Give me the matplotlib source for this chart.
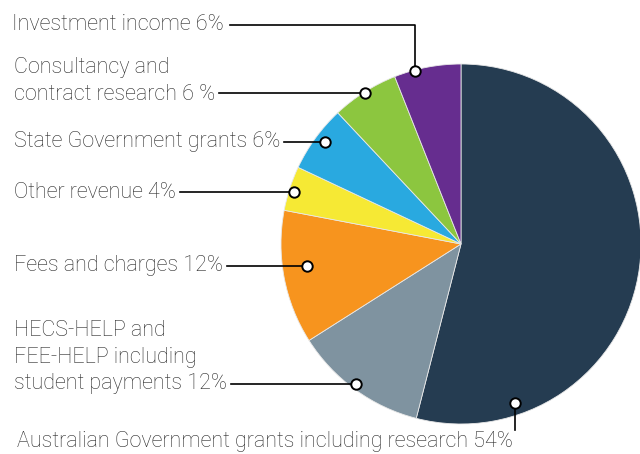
import numpy as np
import matplotlib
matplotlib.use("Agg")
import matplotlib.pyplot as plt

# revenue shares, clockwise from the top
labels = [
    "Australian Government grants including research 54%",
    "HECS-HELP and\nFEE-HELP including\nstudent payments 12%",
    "Fees and charges 12%",
    "Other revenue 4%",
    "State Government grants 6%",
    "Consultancy and\ncontract research 6 %",
    "Investment income 6%",
]
shares = [54, 12, 12, 4, 6, 6, 6]
colors = ["#253c51", "#7f93a0", "#f7941e", "#f6e934", "#29a9e0", "#8cc63f", "#662d8f"]

# where each callout dot sits inside its wedge: (fraction along wedge, fraction of radius)
dot_pos = [(0.829, 0.933), (0.523, 0.972), (0.565, 0.864), (0.451, 0.972),
           (0.542, 0.944), (0.5, 0.994), (0.31, 0.994)]
# text anchor (x, y in px from top-left) and callout line height
text_xy = [(17, 442), (14, 357), (14, 265), (14, 192), (14, 142), (14, 81), (12, 25)]
line_y = [None, 384, 266, 192, 142, 93, 25]

W, H = 640, 454
CX, CY, R = 461, H - 244, 180

plt.rcParams["font.family"] = ["Roboto", "DejaVu Sans"]

fig = plt.figure(figsize=(W / 100, H / 100), dpi=100)
ax = fig.add_axes([0, 0, 1, 1])

ax.pie(shares, colors=colors, startangle=90, counterclock=False,
       center=(CX, CY), radius=R, frame=True,
       wedgeprops=dict(edgecolor="#e8e8e8", linewidth=0.6))
ax.set_xlim(0, W)
ax.set_ylim(0, H)
ax.set_aspect("equal")
ax.axis("off")

tc = "#2a2a2a"
fs = 15.5
start = 90.0
for i, (lab, s) in enumerate(zip(labels, shares)):
    span = s / 100 * 360
    f, rf = dot_pos[i]
    ang = np.deg2rad(start - f * span)
    start -= span
    dx = CX + rf * R * np.cos(ang)
    dy = CY + rf * R * np.sin(ang)
    tx, ty = text_xy[i]
    t = ax.text(tx, H - ty, lab, fontsize=fs, color=tc, ha="left",
                va="center", linespacing=1.36, fontweight="light")
    if i == 0:
        ax.plot([dx, dx], [dy, H - 430], color="black", lw=1.2, zorder=4)
    else:
        fig.canvas.draw()
        bb = t.get_window_extent().transformed(ax.transData.inverted())
        ly = H - line_y[i]
        if i == 6:
            ax.plot([bb.x1 + 6, dx, dx], [ly, ly, dy], color="black", lw=1.2, zorder=4)
        else:
            ax.plot([bb.x1 + 4, dx], [ly, ly], color="black", lw=1.2, zorder=4)
    ax.plot(dx, dy, "o", ms=7.5, mfc="white", mec="black", mew=1.4, zorder=5)

fig.savefig("out.png", dpi=100)
